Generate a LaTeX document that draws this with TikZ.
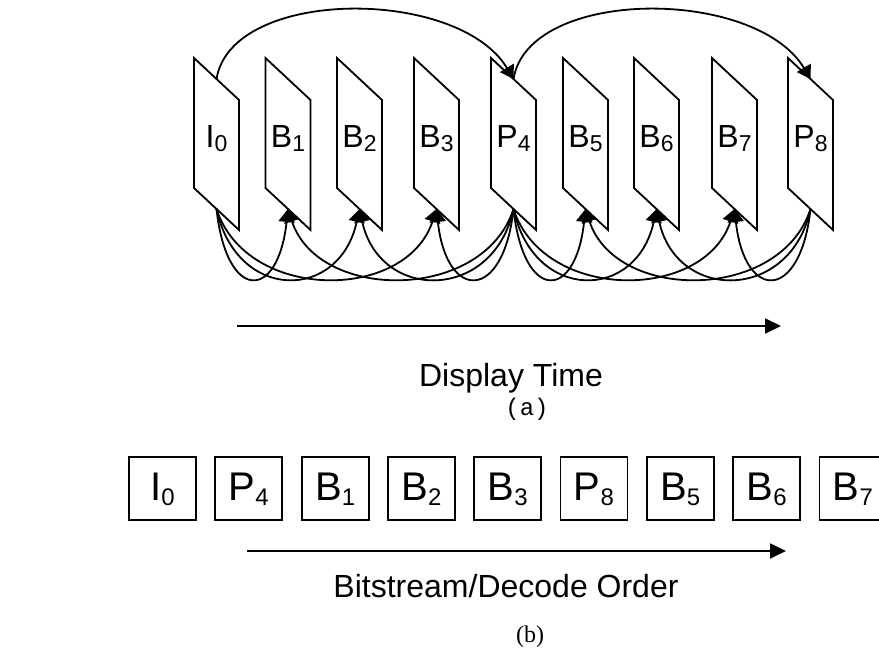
\documentclass[tikz,border=0pt]{standalone}
\usepackage{fontspec}
\setmainfont{Liberation Sans}
\newfontfamily\courfont{Liberation Mono}
\newfontfamily\timesfont{Liberation Serif}
\usetikzlibrary{arrows.meta,positioning}

\newcommand{\frname}[2]{#1\raisebox{-4pt}{\fontsize{23}{23}\selectfont #2}}
\newcommand{\boxname}[2]{#1\raisebox{-5pt}{\fontsize{24}{24}\selectfont #2}}

\newcommand{\pframe}[3]{
	\pgfmathsetmacro{\PFl}{#2}
	\pgfmathsetmacro{\PFr}{#2+45}
	\pgfmathsetmacro{\PFm}{#2+22.5}
	\draw[frame] (\PFl,58) -- (\PFr,100) -- (\PFr,230) -- (\PFl,188) -- cycle;
	\coordinate (#1t) at (\PFm,79);
	\coordinate (#1b) at (\PFm,209);
	\node[frlabel] (#1) at (\PFm,148) {#3};
}

\newcommand{\pcurve}[3]{
	\pgfmathsetmacro{\PCa}{#3}
	\pgfmathsetmacro{\PCb}{-(#3)}
	\draw[pred] (#1b) .. controls +(\PCa,93) and +(\PCb,93) .. (#2b);
}

\begin{document}
\begin{tikzpicture}[x=1pt,y=-1pt,
	frame/.style={line width=1.8pt,line join=miter,fill=white},
	frlabel/.style={inner sep=0pt,anchor=base,font=\fontsize{32}{32}\selectfont},
	pred/.style={line width=1.8pt,-{Triangle[length=13pt,width=16pt]}},
	order/.style={line width=1.8pt,-{Triangle[length=16pt,width=15pt]}},
	framebox/.style={draw,line width=1.8pt,minimum width=67pt,minimum height=63pt,inner sep=0pt,text height=29pt,text depth=5pt,font=\fontsize{40}{40}\selectfont},
	caption/.style={font=\fontsize{32}{32}\selectfont,anchor=base}]

\useasboundingbox (0,0) rectangle (879,652);
\clip (0,0) rectangle (879,652);

\pframe{I0}{194}{\frname{I}{0}}
\pframe{B1}{265.5}{\frname{B}{1}}
\pframe{B2}{337}{\frname{B}{2}}
\pframe{B3}{414}{\frname{B}{3}}
\pframe{P4}{491}{\frname{P}{4}}
\pframe{B5}{563}{\frname{B}{5}}
\pframe{B6}{634}{\frname{B}{6}}
\pframe{B7}{712}{\frname{B}{7}}
\pframe{P8}{788}{\frname{P}{8}}

\draw[pred] (I0t) .. controls +(15,-92) and +(-55,-92) .. (P4t);
\draw[pred] (P4t) .. controls +(15,-92) and +(-55,-92) .. (P8t);

\pcurve{I0}{B1}{10}
\pcurve{I0}{B2}{20}
\pcurve{I0}{B3}{30}
\pcurve{P4}{B1}{-30}
\pcurve{P4}{B2}{-20}
\pcurve{P4}{B3}{-10}
\pcurve{P4}{B5}{10}
\pcurve{P4}{B6}{20}
\pcurve{P4}{B7}{30}
\pcurve{P8}{B5}{-30}
\pcurve{P8}{B6}{-20}
\pcurve{P8}{B7}{-10}

\coordinate (dispA) at (237,326);
\coordinate (dispB) at (781,326);
\draw[order] (dispA) -- (dispB);
\node[caption] (dispL) at (511,387) {Display Time};
\node[font=\courfont\fontsize{24}{24}\selectfont] (capA) at (527,409) {(a)};

\node[framebox] (bI0) at (162.5,488.5) {\boxname{I}{0}};
\node[framebox,right=17.5pt of bI0] (bP4) {\boxname{P}{4}};
\node[framebox,right=17.5pt of bP4] (bB1) {\boxname{B}{1}};
\node[framebox,right=17.5pt of bB1] (bB2) {\boxname{B}{2}};
\node[framebox,right=17.5pt of bB2] (bB3) {\boxname{B}{3}};
\node[framebox,right=17.5pt of bB3] (bP8) {\boxname{P}{8}};
\node[framebox,right=17.5pt of bP8] (bB5) {\boxname{B}{5}};
\node[framebox,right=17.5pt of bB5] (bB6) {\boxname{B}{6}};
\node[framebox,right=17.5pt of bB6] (bB7) {\boxname{B}{7}};

\coordinate (bitA) at (247,551);
\coordinate (bitB) at (786,551);
\draw[order] (bitA) -- (bitB);
\node[caption] (bitL) at (506,597) {Bitstream/Decode Order};
\node[font=\timesfont\fontsize{24}{24}\selectfont] (capB) at (530,637) {(b)};
\end{tikzpicture}
\end{document}
